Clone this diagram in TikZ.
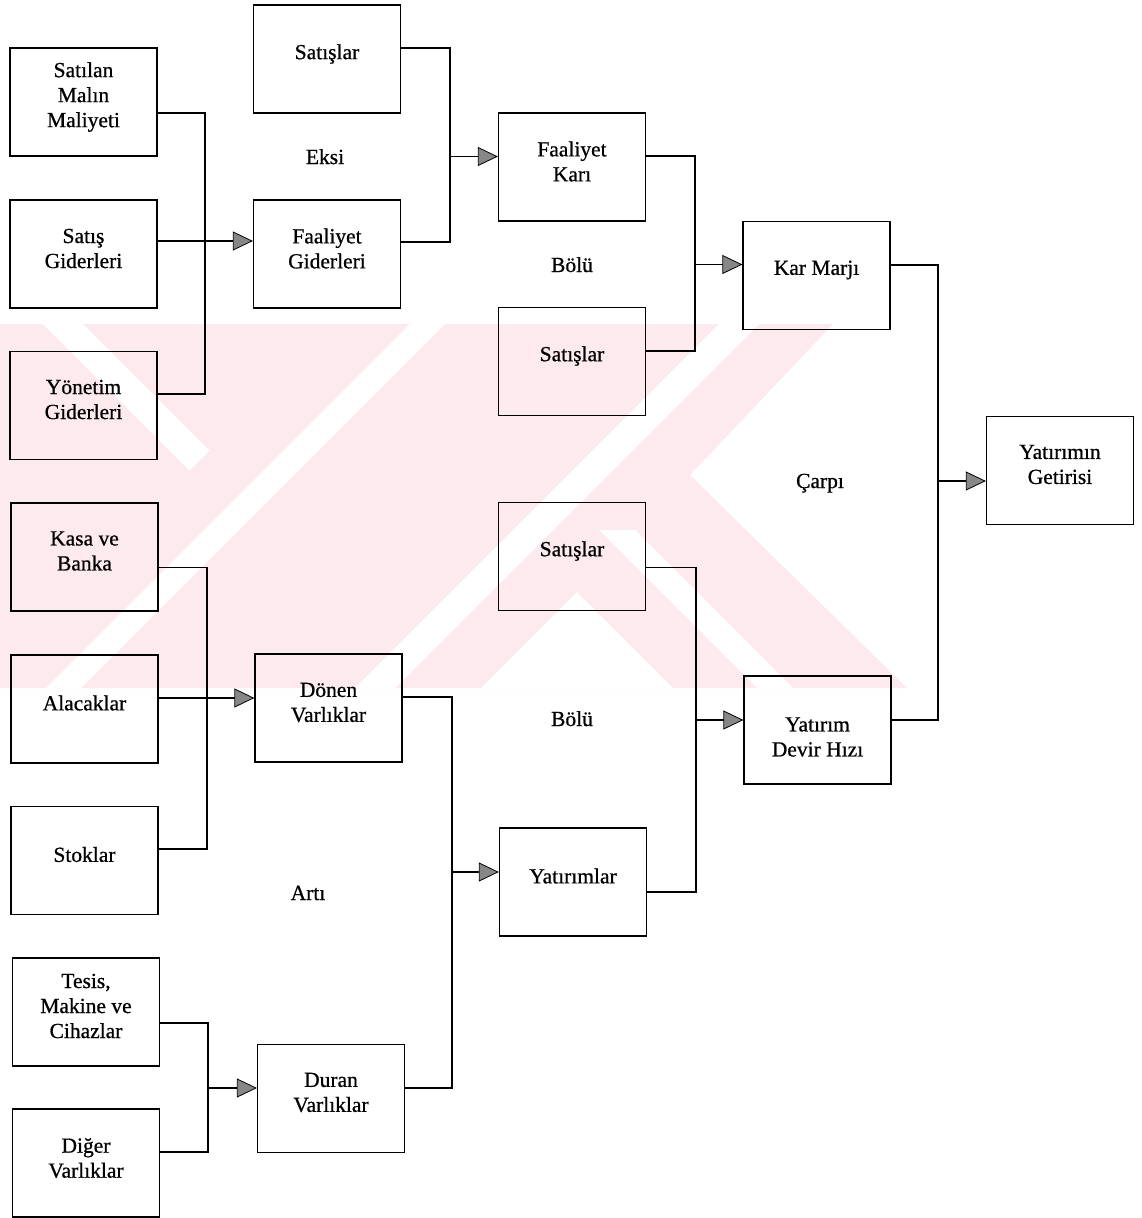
\documentclass[tikz,border=0pt]{standalone}
\usepackage{fontspec}
\setmainfont{Liberation Serif}[BoldFont={Liberation Serif}, BoldFeatures={FakeBold=0.7}]
\usetikzlibrary{arrows.meta}
\definecolor{wmpink}{RGB}{253,234,238}
\definecolor{tipgray}{RGB}{135,135,135}
\begin{document}
\begin{tikzpicture}[x=1pt,y=-1pt,
  box/.style={draw, line width=1.3pt, minimum width=147pt, minimum height=108pt, inner sep=0pt},
  lbl/.style={font=\fontsize{21.5}{25}\selectfont\bfseries, align=center, inner sep=0pt},
  link/.style={line width=1.3pt},
  feed/.style={link, -{Triangle[length=20pt,width=19pt,fill=tipgray,line width=0.8pt]}},
  op/.style={font=\fontsize{21.5}{25}\selectfont\bfseries, anchor=base, inner sep=0pt},
]
\fill[white] (0,0) rectangle (1142,1218);
\useasboundingbox (0,0) rectangle (1142,1218);

% background stamp: pale diagonal bands
\fill[wmpink] (0,324) -- (833,324) -- (690,475) -- (907,688) -- (0,688) -- cycle;
\fill[white] (410,324) -- (445,324) -- (81,688) -- (46,688) -- cycle;
\fill[white] (719,324) -- (759,324) -- (395,688) -- (355,688) -- cycle;
\fill[white] (43,324) -- (83,324) -- (209.5,450.5) -- (189.5,470.5) -- cycle;
\fill[white] (577,592) -- (673,688) -- (481,688) -- cycle;
\fill[white] (599,530) -- (635,530) -- (793,688) -- (757,688) -- cycle;

% first column
\node[box, label={[lbl,yshift=5pt]center:{Satılan\\Malın\\Maliyeti}}] (smm) at (83.5,102) {};
\node[box, label={[lbl,yshift=5.5pt]center:{Satış\\Giderleri}}] (sg) at (83.5,254) {};
\node[box, label={[lbl,yshift=6pt]center:{Yönetim\\Giderleri}}] (yg) at (83.5,405.5) {};
\node[box, label={[lbl,yshift=6pt]center:{Kasa ve\\Banka}}] (kb) at (84.5,557) {};
\node[box, label={[lbl,yshift=6pt]center:{Alacaklar}}] (al) at (84.5,709) {};
\node[box, label={[lbl,yshift=6pt]center:{Stoklar}}] (st) at (84.5,860.5) {};
\node[box, label={[lbl,yshift=6pt]center:{Tesis,\\Makine ve\\Cihazlar}}] (tmc) at (86,1012) {};
\node[box, label={[lbl,yshift=5pt]center:{Diğer\\Varlıklar}}] (dv) at (86,1163) {};

% second column
\node[box, label={[lbl,yshift=5pt]center:{Satışlar}}] (sat1) at (327,59) {};
\node[box, label={[lbl,yshift=5.5pt]center:{Faaliyet\\Giderleri}}] (fg) at (327,254) {};
\node[box, label={[lbl,yshift=5.5pt]center:{Dönen\\Varlıklar}}] (dnv) at (328.5,708) {};
\node[box, label={[lbl,yshift=6pt]center:{Duran\\Varlıklar}}] (drv) at (331,1098.5) {};

% third column
\node[box, label={[lbl,yshift=5.5pt]center:{Faaliyet\\Karı}}] (fk) at (572,167) {};
\node[box, label={[lbl,yshift=5.5pt]center:{Satışlar}}] (sat2) at (572,361.5) {};
\node[box, label={[lbl,yshift=5.5pt]center:{Satışlar}}] (sat3) at (572,556.5) {};
\node[box, label={[lbl,yshift=6pt]center:{Yatırımlar}}] (yat) at (573,882) {};

% fourth and fifth columns
\node[box, label={[lbl,yshift=5.5pt]center:{Kar Marjı}}] (km) at (816.5,275.5) {};
\node[box, label={[lbl,yshift=-7pt]center:{Yatırım\\Devir Hızı}}] (ydh) at (817.5,730) {};
\node[box, label={[lbl,yshift=6pt]center:{Yatırımın\\Getirisi}}] (roi) at (1060,470.5) {};

% operation words
\node[op] (minus) at (325,164) {Eksi};
\node[op] (div1) at (572,272) {Bölü};
\node[op] (times) at (820,488) {Çarpı};
\node[op] (div2) at (572,726) {Bölü};
\node[op] (plus) at (308,900) {Artı};

% junction points on the collecting lines
\coordinate (jA) at (205,241);
\coordinate (jB) at (450,156.5);
\coordinate (jC) at (695,264.5);
\coordinate (jD) at (938,481);
\coordinate (jE) at (207,698);
\coordinate (jF) at (452,872);
\coordinate (jG) at (696,720);
\coordinate (jH) at (208,1088);

% operating expenses
\draw[link] ([yshift=-11pt]smm.east) -| (jA) |- ([yshift=11.5pt]yg.east);
\draw[feed] ([yshift=13pt]sg.east) -- ([yshift=13pt]fg.west);
% operating profit
\draw[link] ([yshift=11pt]sat1.east) -| (jB) |- ([yshift=12pt]fg.east);
\draw[feed] (jB) -- ([yshift=10.5pt]fk.west);
% profit margin
\draw[link] ([yshift=11pt]fk.east) -| (jC) |- ([yshift=10.5pt]sat2.east);
\draw[feed] (jC) -- ([yshift=11pt]km.west);
% return on investment
\draw[link] ([yshift=10.5pt]km.east) -| (jD) |- ([yshift=10pt]ydh.east);
\draw[feed] (jD) -- ([yshift=-10.5pt]roi.west);
% current assets
\draw[link] ([yshift=-10.5pt]kb.east) -| (jE) |- ([yshift=11.5pt]st.east);
\draw[feed] ([yshift=11pt]al.east) -- ([yshift=10pt]dnv.west);
% total investment
\draw[link] ([yshift=11pt]dnv.east) -| (jF) |- ([yshift=10.5pt]drv.east);
\draw[feed] (jF) -- ([yshift=10pt]yat.west);
% investment turnover
\draw[link] ([yshift=-11pt]sat3.east) -| (jG) |- ([yshift=-10pt]yat.east);
\draw[feed] (jG) -- ([yshift=10pt]ydh.west);
% fixed assets
\draw[link] ([yshift=-11pt]tmc.east) -| (jH) |- ([yshift=11pt]dv.east);
\draw[feed] (jH) -- ([yshift=10.5pt]drv.west);
\end{tikzpicture}
\end{document}
